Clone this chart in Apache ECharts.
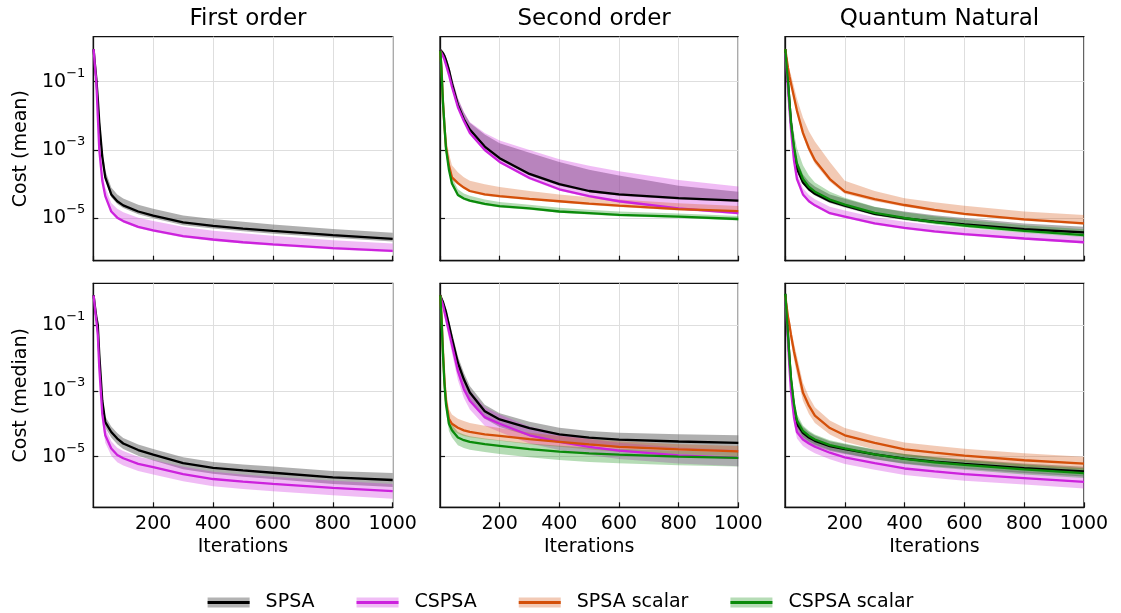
<!DOCTYPE html>
<html>
<head>
<meta charset="utf-8">
<script src="https://cdn.jsdelivr.net/npm/echarts@6/dist/echarts.min.js"></script>
<style>
  html, body { margin: 0; padding: 0; background: #fff; }
  #chart { width: 1121px; height: 613px; }
</style>
</head>
<body>
<div id="chart"></div>
<script>
const iters = [1, 5, 10, 15, 20, 30, 40, 60, 80, 100, 150, 200, 300, 400, 500, 600, 800, 1000];

// all values below are log10(cost)
// --- first order, mean
const foMeanSpsa     = [-0.05,-0.45,-0.9,-1.5,-2.2,-3.2,-3.8,-4.3,-4.5,-4.62,-4.8,-4.92,-5.12,-5.22,-5.3,-5.37,-5.49,-5.6];
const foMeanSpsaHi   = [0.0,-0.35,-0.75,-1.3,-1.95,-2.95,-3.6,-4.1,-4.3,-4.42,-4.6,-4.72,-4.92,-5.02,-5.1,-5.18,-5.31,-5.42];
const foMeanSpsaLo   = [-0.08,-0.5,-0.98,-1.6,-2.3,-3.3,-3.88,-4.38,-4.58,-4.7,-4.88,-5.0,-5.2,-5.3,-5.38,-5.45,-5.57,-5.68];
const foMeanCspsa    = [-0.05,-0.5,-1.0,-2.0,-3.0,-3.9,-4.35,-4.8,-4.98,-5.08,-5.25,-5.35,-5.52,-5.62,-5.7,-5.76,-5.87,-5.95];
const foMeanCspsaHi  = [0.0,-0.4,-0.85,-1.8,-2.75,-3.65,-4.1,-4.55,-4.72,-4.82,-4.98,-5.08,-5.25,-5.36,-5.44,-5.51,-5.64,-5.74];
const foMeanCspsaLo  = [-0.08,-0.55,-1.05,-2.05,-3.05,-3.95,-4.4,-4.84,-5.02,-5.12,-5.29,-5.39,-5.56,-5.66,-5.74,-5.8,-5.91,-5.99];

// --- first order, median
const foMedSpsa      = [-0.09,-0.4,-0.75,-1.0,-1.9,-3.3,-3.95,-4.25,-4.45,-4.6,-4.8,-4.94,-5.2,-5.34,-5.42,-5.49,-5.63,-5.71];
const foMedSpsaHi    = [-0.05,-0.3,-0.62,-0.85,-1.7,-3.1,-3.78,-4.08,-4.28,-4.43,-4.63,-4.77,-5.02,-5.16,-5.24,-5.3,-5.44,-5.5];
const foMedSpsaLo    = [-0.13,-0.5,-0.88,-1.15,-2.1,-3.5,-4.12,-4.42,-4.62,-4.77,-4.97,-5.12,-5.38,-5.52,-5.61,-5.68,-5.83,-5.92];
const foMedCspsa     = [-0.1,-0.45,-0.85,-1.3,-2.3,-3.7,-4.35,-4.75,-4.95,-5.05,-5.22,-5.32,-5.53,-5.68,-5.76,-5.83,-5.95,-6.05];
const foMedCspsaHi   = [-0.05,-0.33,-0.7,-1.1,-2.05,-3.45,-4.12,-4.53,-4.73,-4.83,-5.0,-5.1,-5.31,-5.46,-5.54,-5.61,-5.73,-5.83];
const foMedCspsaLo   = [-0.15,-0.57,-1.0,-1.5,-2.55,-3.95,-4.58,-4.97,-5.17,-5.27,-5.44,-5.54,-5.75,-5.9,-5.98,-6.05,-6.17,-6.28];

// --- second order, mean
const soMeanSpsa     = [-0.07,-0.12,-0.17,-0.25,-0.37,-0.66,-1.05,-1.68,-2.1,-2.4,-2.9,-3.24,-3.7,-4.0,-4.2,-4.3,-4.41,-4.48];
const soMeanSpsaHi   = [-0.03,-0.06,-0.1,-0.16,-0.27,-0.52,-0.88,-1.5,-1.9,-2.2,-2.55,-2.8,-3.08,-3.35,-3.58,-3.75,-4.05,-4.22];
const soMeanSpsaLo   = [-0.1,-0.16,-0.22,-0.32,-0.45,-0.76,-1.15,-1.78,-2.18,-2.47,-2.96,-3.29,-3.75,-4.05,-4.24,-4.34,-4.45,-4.52];
const soMeanCspsa    = [-0.1,-0.16,-0.25,-0.36,-0.5,-0.8,-1.15,-1.75,-2.15,-2.5,-3.0,-3.35,-3.82,-4.15,-4.35,-4.5,-4.71,-4.85];
const soMeanCspsaHi  = [-0.05,-0.08,-0.12,-0.18,-0.28,-0.55,-0.9,-1.48,-1.88,-2.18,-2.5,-2.72,-3.0,-3.27,-3.46,-3.62,-3.88,-4.07];
const soMeanCspsaLo  = [-0.12,-0.19,-0.29,-0.4,-0.54,-0.84,-1.19,-1.79,-2.19,-2.54,-3.04,-3.39,-3.86,-4.19,-4.39,-4.54,-4.75,-4.89];
const soMeanSpsaS    = [-0.1,-0.6,-1.6,-2.3,-2.9,-3.45,-3.8,-3.97,-4.1,-4.2,-4.3,-4.35,-4.43,-4.5,-4.57,-4.63,-4.73,-4.79];
const soMeanSpsaSHi  = [-0.05,-0.45,-1.4,-2.05,-2.6,-3.1,-3.45,-3.65,-3.8,-3.9,-4.0,-4.08,-4.2,-4.3,-4.38,-4.45,-4.56,-4.64];
const soMeanSpsaSLo  = [-0.12,-0.65,-1.66,-2.36,-2.96,-3.5,-3.85,-4.02,-4.14,-4.24,-4.34,-4.39,-4.47,-4.54,-4.61,-4.67,-4.77,-4.83];
const soMeanCspsaS   = [-0.1,-0.66,-1.63,-2.3,-2.95,-3.58,-3.98,-4.32,-4.42,-4.48,-4.58,-4.64,-4.71,-4.8,-4.85,-4.9,-4.95,-5.02];
const soMeanCspsaSHi = [-0.05,-0.5,-1.45,-2.1,-2.75,-3.4,-3.8,-4.15,-4.27,-4.34,-4.45,-4.52,-4.6,-4.69,-4.75,-4.8,-4.86,-4.93];
const soMeanCspsaSLo = [-0.12,-0.7,-1.68,-2.36,-3.0,-3.63,-4.03,-4.36,-4.46,-4.52,-4.62,-4.68,-4.75,-4.84,-4.89,-4.94,-4.99,-5.06];

// --- second order, median
const soMedSpsa      = [-0.09,-0.2,-0.3,-0.45,-0.6,-1.0,-1.4,-2.15,-2.65,-3.05,-3.62,-3.87,-4.13,-4.32,-4.42,-4.48,-4.54,-4.58];
const soMedSpsaHi    = [-0.05,-0.13,-0.22,-0.35,-0.48,-0.85,-1.22,-1.95,-2.45,-2.85,-3.42,-3.68,-3.94,-4.12,-4.22,-4.27,-4.32,-4.35];
const soMedSpsaLo    = [-0.13,-0.27,-0.4,-0.57,-0.75,-1.17,-1.6,-2.38,-2.88,-3.28,-3.85,-4.1,-4.37,-4.56,-4.66,-4.72,-4.78,-4.82];
const soMedCspsa     = [-0.12,-0.25,-0.4,-0.6,-0.8,-1.2,-1.6,-2.4,-2.95,-3.3,-3.8,-4.0,-4.35,-4.55,-4.7,-4.82,-4.96,-5.04];
const soMedCspsaHi   = [-0.07,-0.16,-0.28,-0.45,-0.62,-0.98,-1.35,-2.1,-2.62,-2.98,-3.5,-3.72,-4.08,-4.3,-4.46,-4.58,-4.72,-4.8];
const soMedCspsaLo   = [-0.16,-0.33,-0.52,-0.75,-0.98,-1.42,-1.85,-2.68,-3.22,-3.57,-4.06,-4.25,-4.6,-4.8,-4.95,-5.07,-5.21,-5.29];
const soMedSpsaS     = [-0.1,-0.7,-1.8,-2.7,-3.3,-3.85,-4.0,-4.12,-4.2,-4.25,-4.32,-4.37,-4.47,-4.55,-4.63,-4.7,-4.78,-4.84];
const soMedSpsaSHi   = [-0.05,-0.5,-1.5,-2.35,-2.95,-3.55,-3.72,-3.85,-3.92,-3.98,-4.06,-4.13,-4.27,-4.37,-4.46,-4.53,-4.62,-4.68];
const soMedSpsaSLo   = [-0.13,-0.85,-2.0,-2.9,-3.5,-4.05,-4.2,-4.3,-4.37,-4.41,-4.47,-4.52,-4.62,-4.7,-4.78,-4.85,-4.93,-4.99];
const soMedCspsaS    = [-0.1,-0.8,-1.9,-2.8,-3.4,-4.0,-4.2,-4.42,-4.5,-4.55,-4.62,-4.67,-4.77,-4.85,-4.9,-4.94,-5.0,-5.04];
const soMedCspsaSHi  = [-0.05,-0.6,-1.65,-2.55,-3.15,-3.8,-4.02,-4.25,-4.33,-4.38,-4.45,-4.5,-4.6,-4.67,-4.72,-4.76,-4.82,-4.86];
const soMedCspsaSLo  = [-0.14,-0.95,-2.1,-3.0,-3.62,-4.22,-4.42,-4.65,-4.74,-4.79,-4.86,-4.92,-5.02,-5.1,-5.16,-5.2,-5.26,-5.3];

// --- quantum natural, mean
const qnMeanSpsa     = [-0.05,-0.5,-1.0,-1.6,-2.2,-3.0,-3.55,-3.95,-4.15,-4.28,-4.5,-4.63,-4.87,-5.0,-5.1,-5.18,-5.32,-5.41];
const qnMeanSpsaHi   = [0.0,-0.38,-0.85,-1.42,-2.0,-2.75,-3.3,-3.72,-3.93,-4.07,-4.3,-4.43,-4.67,-4.8,-4.91,-4.99,-5.15,-5.25];
const qnMeanSpsaLo   = [-0.08,-0.55,-1.06,-1.66,-2.26,-3.06,-3.6,-4.0,-4.2,-4.33,-4.55,-4.68,-4.92,-5.05,-5.15,-5.23,-5.37,-5.46];
const qnMeanCspsa    = [-0.15,-0.6,-1.2,-1.8,-2.4,-3.3,-3.85,-4.3,-4.5,-4.62,-4.85,-4.95,-5.15,-5.28,-5.38,-5.46,-5.59,-5.7];
const qnMeanCspsaHi  = [-0.1,-0.5,-1.05,-1.62,-2.2,-3.1,-3.65,-4.12,-4.32,-4.44,-4.66,-4.77,-4.97,-5.1,-5.2,-5.28,-5.42,-5.53];
const qnMeanCspsaLo  = [-0.18,-0.65,-1.25,-1.85,-2.45,-3.35,-3.9,-4.34,-4.54,-4.66,-4.89,-4.99,-5.19,-5.32,-5.42,-5.5,-5.63,-5.74];
const qnMeanSpsaS    = [-0.05,-0.3,-0.6,-0.85,-1.05,-1.45,-1.85,-2.5,-2.95,-3.3,-3.85,-4.22,-4.44,-4.61,-4.75,-4.87,-5.03,-5.15];
const qnMeanSpsaSHi  = [0.0,-0.2,-0.45,-0.65,-0.8,-1.15,-1.5,-2.05,-2.45,-2.75,-3.35,-3.9,-4.2,-4.41,-4.53,-4.63,-4.8,-4.9];
const qnMeanSpsaSLo  = [-0.08,-0.36,-0.67,-0.93,-1.14,-1.55,-1.95,-2.6,-3.05,-3.4,-3.93,-4.28,-4.5,-4.66,-4.8,-4.91,-5.07,-5.19];
const qnMeanCspsaS   = [-0.05,-0.5,-1.0,-1.6,-2.2,-2.9,-3.4,-3.85,-4.08,-4.22,-4.45,-4.6,-4.84,-4.99,-5.11,-5.21,-5.37,-5.49];
const qnMeanCspsaSHi = [0.0,-0.35,-0.8,-1.3,-1.85,-2.5,-2.95,-3.45,-3.75,-3.95,-4.22,-4.4,-4.66,-4.82,-4.94,-5.04,-5.2,-5.32];
const qnMeanCspsaSLo = [-0.08,-0.56,-1.06,-1.66,-2.26,-2.96,-3.46,-3.91,-4.14,-4.28,-4.51,-4.66,-4.9,-5.05,-5.17,-5.27,-5.43,-5.55];

// --- quantum natural, median
const qnMedSpsa      = [-0.05,-0.6,-1.3,-2.0,-2.7,-3.5,-4.0,-4.28,-4.42,-4.52,-4.68,-4.77,-4.93,-5.06,-5.15,-5.22,-5.35,-5.45];
const qnMedSpsaHi    = [0.0,-0.45,-1.1,-1.8,-2.5,-3.3,-3.8,-4.1,-4.25,-4.36,-4.53,-4.62,-4.79,-4.92,-5.01,-5.08,-5.21,-5.31];
const qnMedSpsaLo    = [-0.1,-0.75,-1.5,-2.2,-2.9,-3.7,-4.18,-4.45,-4.58,-4.68,-4.83,-4.92,-5.08,-5.21,-5.3,-5.37,-5.5,-5.6];
const qnMedCspsa     = [-0.15,-0.7,-1.5,-2.3,-3.0,-3.8,-4.25,-4.48,-4.6,-4.7,-4.88,-5.02,-5.2,-5.36,-5.45,-5.53,-5.65,-5.77];
const qnMedCspsaHi   = [-0.1,-0.55,-1.3,-2.1,-2.8,-3.6,-4.05,-4.28,-4.4,-4.5,-4.68,-4.82,-5.0,-5.16,-5.25,-5.33,-5.45,-5.57];
const qnMedCspsaLo   = [-0.2,-0.85,-1.7,-2.5,-3.2,-4.0,-4.45,-4.68,-4.8,-4.9,-5.08,-5.22,-5.4,-5.56,-5.65,-5.73,-5.85,-5.97];
const qnMedSpsaS     = [-0.1,-0.4,-0.75,-1.0,-1.3,-1.8,-2.22,-3.05,-3.45,-3.75,-4.13,-4.35,-4.58,-4.78,-4.88,-4.97,-5.11,-5.21];
const qnMedSpsaSHi   = [-0.05,-0.3,-0.6,-0.82,-1.1,-1.55,-1.95,-2.75,-3.18,-3.5,-3.9,-4.13,-4.37,-4.57,-4.67,-4.76,-4.9,-5.0];
const qnMedSpsaSLo   = [-0.15,-0.5,-0.9,-1.18,-1.5,-2.05,-2.5,-3.3,-3.7,-3.98,-4.33,-4.55,-4.78,-4.97,-5.07,-5.16,-5.3,-5.4];
const qnMedCspsaS    = [-0.05,-0.6,-1.3,-2.0,-2.6,-3.4,-3.9,-4.22,-4.37,-4.48,-4.65,-4.75,-4.93,-5.07,-5.17,-5.25,-5.39,-5.5];
const qnMedCspsaSHi  = [0.0,-0.45,-1.1,-1.8,-2.4,-3.2,-3.7,-4.05,-4.21,-4.33,-4.5,-4.6,-4.78,-4.92,-5.02,-5.1,-5.24,-5.35];
const qnMedCspsaSLo  = [-0.1,-0.75,-1.5,-2.2,-2.8,-3.6,-4.1,-4.4,-4.53,-4.63,-4.8,-4.9,-5.08,-5.22,-5.32,-5.4,-5.54,-5.65];

const methods = ['SPSA', 'CSPSA', 'SPSA scalar', 'CSPSA scalar'];
const panelTitles = ['First order', 'Second order', 'Quantum Natural'];
const rowNames = ['Cost (mean)', 'Cost (median)'];
const yTicks = [-5, -3, -1];

// [line, lo, hi] per method, null where a method is not shown
const panels = [
  [[foMeanSpsa, foMeanSpsaLo, foMeanSpsaHi], [foMeanCspsa, foMeanCspsaLo, foMeanCspsaHi], null, null],
  [[soMeanSpsa, soMeanSpsaLo, soMeanSpsaHi], [soMeanCspsa, soMeanCspsaLo, soMeanCspsaHi],
   [soMeanSpsaS, soMeanSpsaSLo, soMeanSpsaSHi], [soMeanCspsaS, soMeanCspsaSLo, soMeanCspsaSHi]],
  [[qnMeanSpsa, qnMeanSpsaLo, qnMeanSpsaHi], [qnMeanCspsa, qnMeanCspsaLo, qnMeanCspsaHi],
   [qnMeanSpsaS, qnMeanSpsaSLo, qnMeanSpsaSHi], [qnMeanCspsaS, qnMeanCspsaSLo, qnMeanCspsaSHi]],
  [[foMedSpsa, foMedSpsaLo, foMedSpsaHi], [foMedCspsa, foMedCspsaLo, foMedCspsaHi], null, null],
  [[soMedSpsa, soMedSpsaLo, soMedSpsaHi], [soMedCspsa, soMedCspsaLo, soMedCspsaHi],
   [soMedSpsaS, soMedSpsaSLo, soMedSpsaSHi], [soMedCspsaS, soMedCspsaSLo, soMedCspsaSHi]],
  [[qnMedSpsa, qnMedSpsaLo, qnMedSpsaHi], [qnMedCspsa, qnMedCspsaLo, qnMedCspsaHi],
   [qnMedSpsaS, qnMedSpsaSLo, qnMedSpsaSHi], [qnMedCspsaS, qnMedCspsaSLo, qnMedCspsaSHi]]
];

const FONT = 'DejaVu Sans';
const lineColors = ['#000000', '#cc22dd', '#d4500a', '#0b8b0b'];
const bandColors = ['rgba(110,110,110,0.55)', 'rgba(204,34,221,0.3)', 'rgba(212,80,10,0.3)', 'rgba(11,139,11,0.3)'];
const legendBand = ['#b3b3b3', '#f0bdf5', '#f2cab6', '#b6dcb6'];
const gridLeft = [93.3, 440, 785];
const gridWidth = [299.4, 298.3, 299];
const gridTop = [36.7, 283.3];
const yMin = [-6.24, -6.54];
const yMax = [0.316, 0.27];
const frame = '#111';

const chart = echarts.init(document.getElementById('chart'));

const grids = [], xAxes = [], yAxes = [], series = [];
for (let g = 0; g < 6; g++) {
  const row = Math.floor(g / 3), col = g % 3;
  grids.push({
    left: gridLeft[col], top: gridTop[row], width: gridWidth[col], height: 224,
    show: true, borderColor: frame, borderWidth: 1.3, backgroundColor: 'transparent',
    outerBoundsMode: 'none'
  });
  xAxes.push({
    type: 'value', gridIndex: g, min: 0, max: 1000, interval: 200,
    axisLine: { show: true, onZero: false, lineStyle: { color: frame, width: 1.3 } },
    axisTick: { show: true, inside: true, length: 5, lineStyle: { color: frame, width: 1.2 } },
    axisLabel: {
      show: row === 1, showMinLabel: false, fontSize: 19, color: '#000', margin: 7, fontFamily: FONT,
      formatter: function (v) { return String(v); }
    },
    splitLine: { show: true, lineStyle: { color: '#dedede', width: 1 } },
    name: row === 1 ? 'Iterations' : '', nameLocation: 'middle', nameGap: 30,
    nameTextStyle: { fontSize: 19, color: '#000', fontFamily: FONT }
  });
  yAxes.push({
    type: 'value', gridIndex: g, min: yMin[row], max: yMax[row],
    axisLine: { show: true, onZero: false, lineStyle: { color: frame, width: 1.3 } },
    axisTick: { show: true, inside: true, length: 5, customValues: yTicks, lineStyle: { color: frame, width: 1.2 } },
    axisLabel: {
      show: col === 0, customValues: yTicks, margin: 8, color: '#000',
      formatter: function (v) { return '{b|10}{s|\u2212' + Math.abs(Math.round(v)) + '}'; },
      rich: {
        b: { fontSize: 19, lineHeight: 30, fontFamily: FONT, color: '#000' },
        s: { fontSize: 13, lineHeight: 13, verticalAlign: 'top', fontFamily: FONT, color: '#000' }
      }
    },
    splitLine: { show: true, lineStyle: { color: '#dedede', width: 1 } },
    name: col === 0 ? rowNames[row] : '', nameLocation: 'middle', nameGap: 63,
    nameTextStyle: { fontSize: 19, color: '#000', fontFamily: FONT }
  });

  const curves = panels[g];
  // bands first
  curves.forEach(function (c, m) {
    if (!c) return;
    const lo = c[1], hi = c[2], fill = bandColors[m];
    series.push({
      type: 'custom', name: methods[m], xAxisIndex: g, yAxisIndex: g, silent: true, z: 1,
      data: iters.map(function (x, i) { return [x, lo[i], hi[i]]; }),
      encode: { x: 0, y: [1, 2] },
      renderItem: function (params, api) {
        if (params.dataIndex !== 0) return;
        const pts = [];
        for (let i = 0; i < iters.length; i++) pts.push(api.coord([iters[i], hi[i]]));
        for (let i = iters.length - 1; i >= 0; i--) pts.push(api.coord([iters[i], lo[i]]));
        return { type: 'polygon', shape: { points: pts }, style: { fill: fill, stroke: null } };
      }
    });
  });
  // lines on top
  curves.forEach(function (c, m) {
    if (!c) return;
    series.push({
      type: 'line', name: methods[m], xAxisIndex: g, yAxisIndex: g, z: 3,
      symbol: 'none', smooth: false, silent: true,
      lineStyle: { color: lineColors[m], width: 2.3 },
      itemStyle: { color: lineColors[m] },
      data: iters.map(function (x, i) { return [x, c[0][i]]; })
    });
  });
}

const legendBase = {
  left: 'center', top: 588, orient: 'horizontal', itemWidth: 42, itemGap: 42, selectedMode: false
};

chart.setOption({
  animation: false,
  textStyle: { fontFamily: FONT },
  title: panelTitles.map(function (t, i) {
    return {
      text: t, left: gridLeft[i] + gridWidth[i] / 2, top: 3, textAlign: 'center',
      textStyle: { fontSize: 23, fontWeight: 'normal', color: '#000', fontFamily: FONT }
    };
  }),
  legend: [
    Object.assign({}, legendBase, {
      itemHeight: 10,
      data: methods.map(function (m, i) {
        return { name: m, icon: 'rect', itemStyle: { color: legendBand[i], borderWidth: 0 } };
      }),
      textStyle: { fontSize: 19, color: '#000', fontFamily: FONT, padding: [0, 0, 0, 11] }
    }),
    Object.assign({}, legendBase, {
      itemHeight: 3,
      data: methods.map(function (m, i) {
        return { name: m, icon: 'rect', itemStyle: { color: lineColors[i], borderWidth: 0 } };
      }),
      textStyle: { fontSize: 19, color: 'rgba(0,0,0,0)', fontFamily: FONT, padding: [0, 0, 0, 11] }
    })
  ],
  grid: grids,
  xAxis: xAxes,
  yAxis: yAxes,
  series: series
});
</script>
</body>
</html>
